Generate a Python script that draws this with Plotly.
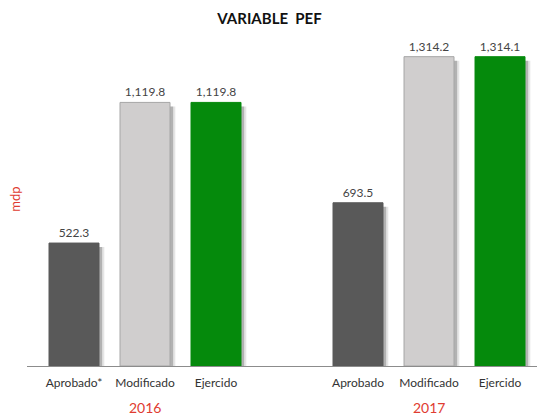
import plotly.graph_objects as go

years = ["2016", "2017"]
categories_2016 = ["Aprobado*", "Modificado", "Ejercido"]
categories_2017 = ["Aprobado", "Modificado", "Ejercido"]
values_2016 = [522.3, 1119.8, 1119.8]
values_2017 = [693.5, 1314.2, 1314.1]
bar_colors = ["#595959", "#d0cece", "#058a0c"]
line_colors = ["#595959", "#a6a6a6", "#058a0c"]

labels = categories_2016 + categories_2017
values = values_2016 + values_2017
n = len(categories_2016)
xpos = [i for i in range(n)] + [i + n + 1 for i in range(n)]
colors = bar_colors * 2
lcolors = line_colors * 2

W = 0.704
PX = 0.235  # px per unit on y
shadow_drop = 4 / PX

fig = go.Figure()
# shadows
fig.add_trace(go.Bar(x=xpos, y=[v - shadow_drop for v in values], width=W,
                     offset=-W / 2 + 0.075, marker_color="rgba(0,0,0,0.10)",
                     marker_line_width=0, hoverinfo="skip", showlegend=False))
fig.add_trace(go.Bar(x=xpos, y=[v - shadow_drop for v in values], width=W,
                     offset=-W / 2 + 0.045, marker_color="rgba(0,0,0,0.22)",
                     marker_line_width=0, hoverinfo="skip", showlegend=False))
# main bars
fig.add_trace(go.Bar(x=xpos, y=values, width=W, offset=-W / 2,
                     marker=dict(color=colors, line=dict(color=lcolors, width=1)),
                     text=values, texttemplate="%{y:,.1f}", textposition="outside",
                     textfont=dict(size=12, color="#444444", family="Lato"),
                     cliponaxis=False, showlegend=False))

fig.update_layout(
    width=539, height=415,
    barmode="overlay",
    paper_bgcolor="white", plot_bgcolor="white",
    margin=dict(l=27, r=2, t=40, b=49),
    font=dict(family="Lato", size=12, color="#333333"),
    title=dict(text="<b>VARIABLE  PEF</b>", x=0.5, xanchor="center", y=0.955, yanchor="middle",
               font=dict(size=15, color="#111111", family="Lato")),
    xaxis=dict(range=[-0.662, 6.521], tickmode="array", tickvals=xpos, ticktext=labels,
               showline=True, linecolor="#8c8c8c", linewidth=1, showgrid=False, zeroline=False,
               ticks="outside", ticklen=6, tickcolor="rgba(0,0,0,0)",
               tickfont=dict(size=12, color="#333333")),
    yaxis=dict(range=[0, 1385], visible=False),
)

for i, yr in enumerate(years):
    fig.add_annotation(x=i * (n + 1) + 1, y=-0.128, xref="x", yref="paper", text=yr,
                       showarrow=False, font=dict(size=14, color="#e03c31", family="Lato"),
                       yanchor="middle")
fig.add_annotation(x=-0.0235, y=0.51, xref="paper", yref="paper", text="mdp", textangle=-90,
                   showarrow=False, font=dict(size=13, color="#e03c31", family="Lato"),
                   xanchor="center", yanchor="middle")

fig.write_html("out.html", config={"displayModeBar": False},
               post_script="document.body.style.margin='0px';")
